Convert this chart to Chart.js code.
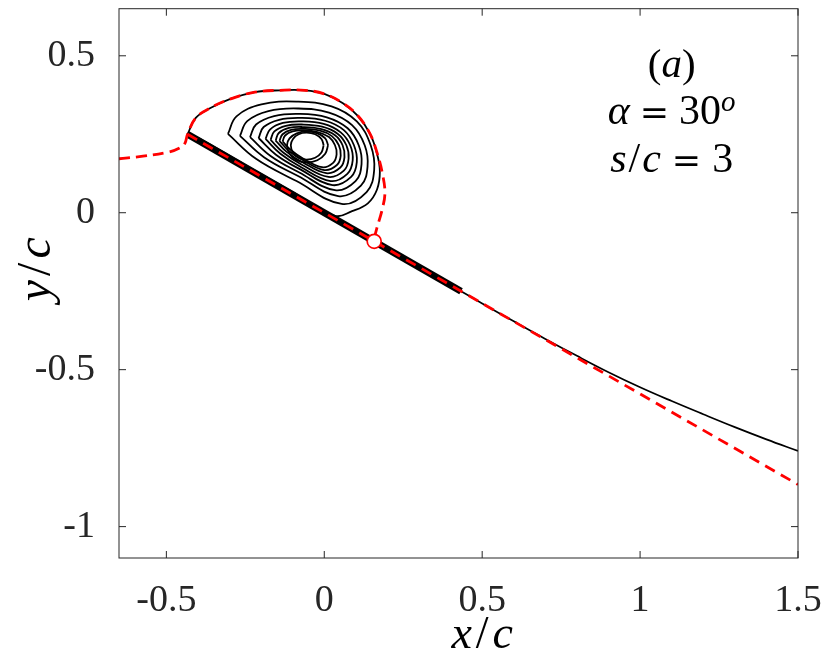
<!DOCTYPE html>
<html>
<head>
<meta charset="utf-8">
<script src="https://cdn.jsdelivr.net/npm/chart.js@4.4.0/dist/chart.umd.min.js"></script>
<style>
  html, body { margin: 0; padding: 0; background: #fff; }
  #wrap { width: 822px; height: 662px; }
</style>
</head>
<body>
<div id="wrap"><canvas id="flow"></canvas></div>
<script>
'use strict';

// ---- axes ----
const xTicks = [-0.5, 0, 0.5, 1, 1.5];
const yTicks = [-1, -0.5, 0, 0.5];

// ---- flat plate, chord c, 30 deg ----
const plateX = [-0.433, 0.433];
const plateY = [0.25, -0.25];

// red dashed: chord line and its straight extension
const chordX = [-0.433, 1.5];
const chordY = [0.25, -0.866];

// black wake streamline leaving the trailing edge
const wakeX = [0.433, 0.5, 0.6, 0.7, 0.8, 0.9, 1.0, 1.1, 1.2, 1.3, 1.4, 1.5];
const wakeY = [-0.250, -0.289, -0.346, -0.402, -0.456, -0.508, -0.556, -0.600, -0.642, -0.683, -0.722, -0.759];

// red dashed dividing streamline (from left edge, over the vortex, to reattachment)
const sepX = [-0.650, -0.574, -0.494, -0.455, -0.441, -0.433, -0.407, -0.362, -0.299, -0.220, -0.140, -0.061,
              0.002, 0.059, 0.107, 0.145, 0.168, 0.184, 0.192, 0.183, 0.168, 0.160, 0.158];
const sepY = [0.172, 0.180, 0.193, 0.208, 0.222, 0.250, 0.302, 0.333, 0.362, 0.384, 0.390, 0.390,
              0.378, 0.349, 0.308, 0.251, 0.188, 0.125, 0.062, 0.009, -0.044, -0.075, -0.091];

// reattachment point
const reattachX = [0.158];
const reattachY = [-0.091];

// closed streamlines of the leading-edge vortex, outer to inner  [x/c, y/c]
const loop0 = [[-0.433,0.250],[-0.407,0.302],[-0.362,0.333],[-0.299,0.362],[-0.220,0.384],[-0.140,0.390],
  [-0.061,0.390],[0.002,0.378],[0.059,0.349],[0.107,0.308],[0.145,0.251],[0.167,0.188],[0.176,0.131],
  [0.167,0.074],[0.138,0.030],[0.088,0.005],[0.034,-0.010],[-0.100,0.066],[-0.250,0.152],[-0.400,0.239],[-0.433,0.250]];
const loop1 = [[-0.305,0.251],[-0.278,0.307],[-0.199,0.345],[-0.088,0.354],[0.023,0.339],[0.103,0.291],
  [0.147,0.215],[0.158,0.136],[0.134,0.066],[0.055,0.028],[-0.088,0.101],[-0.215,0.171],[-0.305,0.251]];
const loop2 = [[-0.267,0.245],[-0.244,0.292],[-0.177,0.324],[-0.083,0.332],[0.015,0.319],[0.088,0.279],
  [0.128,0.215],[0.137,0.147],[0.116,0.086],[0.044,0.053],[-0.083,0.117],[-0.191,0.177],[-0.267,0.245]];
const loop3 = [[-0.235,0.241],[-0.216,0.281],[-0.159,0.308],[-0.079,0.315],[0.008,0.304],[0.074,0.269],
  [0.109,0.215],[0.118,0.155],[0.099,0.101],[0.034,0.072],[-0.079,0.128],[-0.170,0.181],[-0.235,0.241]];
const loop4 = [[-0.208,0.238],[-0.192,0.273],[-0.143,0.296],[-0.076,0.302],[0.003,0.293],[0.062,0.263],
  [0.094,0.215],[0.103,0.161],[0.085,0.114],[0.026,0.088],[-0.076,0.138],[-0.153,0.185],[-0.208,0.238]];
const loop5 = [[-0.186,0.235],[-0.172,0.265],[-0.131,0.286],[-0.073,0.291],[-0.002,0.283],[0.052,0.256],
  [0.082,0.215],[0.090,0.167],[0.073,0.124],[0.020,0.101],[-0.073,0.145],[-0.139,0.188],[-0.186,0.235]];
const loop6 = [[-0.170,0.232],[-0.158,0.259],[-0.122,0.277],[-0.071,0.281],[-0.007,0.274],[0.043,0.251],
  [0.070,0.215],[0.077,0.172],[0.062,0.134],[0.013,0.114],[-0.071,0.153],[-0.129,0.191],[-0.170,0.232]];
const loop7 = [[-0.154,0.230],[-0.144,0.254],[-0.112,0.270],[-0.069,0.273],[-0.012,0.267],[0.034,0.247],
  [0.058,0.215],[0.064,0.177],[0.051,0.144],[0.006,0.126],[-0.069,0.161],[-0.119,0.194],[-0.154,0.230]];
const loop8 = [[-0.142,0.229],[-0.132,0.250],[-0.105,0.264],[-0.067,0.267],[-0.016,0.262],[0.024,0.244],
  [0.046,0.215],[0.052,0.182],[0.040,0.152],[0.000,0.136],[-0.067,0.167],[-0.111,0.196],[-0.142,0.229]];
const loop9 = [[-0.132,0.227],[-0.124,0.246],[-0.100,0.259],[-0.066,0.262],[-0.021,0.257],[0.015,0.241],
  [0.034,0.215],[0.039,0.186],[0.028,0.159],[-0.007,0.145],[-0.066,0.172],[-0.105,0.199],[-0.132,0.227]];
const loop10 = [[0.012,0.215],[0.003,0.237],[-0.022,0.253],[-0.056,0.259],[-0.087,0.253],[-0.110,0.237],
  [-0.118,0.215],[-0.110,0.188],[-0.087,0.167],[-0.056,0.160],[-0.022,0.167],[0.003,0.188],[0.012,0.215]];
const loop11 = [[-0.002,0.215],[-0.009,0.235],[-0.029,0.250],[-0.056,0.255],[-0.081,0.250],[-0.099,0.235],
  [-0.106,0.215],[-0.099,0.192],[-0.081,0.175],[-0.056,0.169],[-0.029,0.175],[-0.009,0.192],[-0.002,0.215]];

const SERIF = '"Liberation Serif", "Times New Roman", serif';
const INK = '#262626';
const RED = '#ff0000';

const pts = (xs, ys) => xs.map((x, i) => ({ x, y: ys[i] }));
const pairs = arr => arr.map(p => ({ x: p[0], y: p[1] }));

function curve(data, color, width, extra) {
  return Object.assign({
    data, showLine: true, fill: false, borderColor: color, borderWidth: width,
    pointRadius: 0, pointHoverRadius: 0, tension: 0.4
  }, extra || {});
}

// first dataset is painted on top
const datasets = [
  { data: pts(reattachX, reattachY), showLine: false, pointRadius: 7, pointBorderWidth: 1.7,
    pointBorderColor: RED, pointBackgroundColor: '#fff' },
  curve(pts(sepX, sepY), RED, 2.8, { borderDash: [11, 6] }),
  curve(pts(chordX, chordY), RED, 2.8, { borderDash: [11, 7], tension: 0 }),
  curve(pairs(loop0), '#000', 1.8),
];
[loop1, loop2, loop3, loop4, loop5, loop6, loop7, loop8, loop9, loop10, loop11]
  .forEach(l => datasets.push(curve(pairs(l), '#000', 1.8)));
datasets.push(curve(pts(wakeX, wakeY), '#000', 1.7));
datasets.push(curve(pts(plateX, plateY), '#000', 7, { tension: 0, borderCapStyle: 'butt' }));
datasets.forEach((d, i) => { d.order = i; });

// draw a row of text pieces centred on cx
function runs(ctx, parts, cx, base) {
  let w = 0;
  parts.forEach(p => { ctx.font = p.f; w += ctx.measureText(p.t).width + 2 * (p.g || 0); });
  let xx = cx - w / 2;
  parts.forEach(p => {
    ctx.font = p.f;
    xx += p.g || 0;
    ctx.fillText(p.t, xx, base + (p.dy || 0));
    xx += ctx.measureText(p.t).width + (p.g || 0);
  });
}

const it = s => `italic ${s}px ${SERIF}`;
const up = s => `${s}px ${SERIF}`;
const EQ = s => `${s}px "DejaVu Serif", serif`;

const frame = {
  id: 'frame',
  afterDraw(chart) {
    const { ctx, chartArea: a, scales: { x, y } } = chart;
    ctx.save();
    ctx.strokeStyle = INK;
    ctx.lineWidth = 1;
    ctx.strokeRect(a.left, a.top, a.right - a.left, a.bottom - a.top);
    ctx.beginPath();
    const tl = 7;
    xTicks.forEach(v => {
      const p = x.getPixelForValue(v);
      ctx.moveTo(p, a.bottom); ctx.lineTo(p, a.bottom - tl);
      ctx.moveTo(p, a.top); ctx.lineTo(p, a.top + tl);
    });
    yTicks.forEach(v => {
      const p = y.getPixelForValue(v);
      ctx.moveTo(a.left, p); ctx.lineTo(a.left + tl, p);
      ctx.moveTo(a.right, p); ctx.lineTo(a.right - tl, p);
    });
    ctx.stroke();

    ctx.fillStyle = '#000';
    ctx.textBaseline = 'alphabetic';
    ctx.textAlign = 'left';
    // panel annotation
    const ax = x.getPixelForValue(1.1);
    runs(ctx, [{ t: '(', f: up(41) }, { t: 'a', f: it(41) }, { t: ')', f: up(41) }], ax, y.getPixelForValue(0.431));
    runs(ctx, [{ t: '\u03b1', f: it(42) }, { t: '=', f: EQ(35), g: 10 }, { t: '30', f: up(42) },
               { t: 'o', f: it(29), dy: -13 }], ax, y.getPixelForValue(0.283));
    runs(ctx, [{ t: 's', f: it(42) }, { t: '/', f: up(42), g: 2 }, { t: 'c', f: it(42) },
               { t: '=', f: EQ(35), g: 11 }, { t: '3', f: up(42) }], ax, y.getPixelForValue(0.131));

    // axis titles
    runs(ctx, [{ t: 'x', f: it(46) }, { t: '/', f: up(46), g: 4 }, { t: 'c', f: it(46) }],
         x.getPixelForValue(0.5), a.bottom + 90);
    ctx.translate(50, y.getPixelForValue(-0.18));
    ctx.rotate(-Math.PI / 2);
    runs(ctx, [{ t: 'y', f: it(48) }, { t: '/', f: up(48), g: 4 }, { t: 'c', f: it(48) }], 0, 0);
    ctx.restore();
  }
};

const tickFont = { family: SERIF, size: 38 };
const label = v => (v === 0 ? '0' : String(v));

new Chart(document.getElementById('flow'), {
  type: 'scatter',
  data: { datasets },
  options: {
    responsive: true,
    maintainAspectRatio: false,
    animation: false,
    events: [],
    layout: { padding: { left: 0, top: 4, right: 24, bottom: 0 } },
    plugins: { legend: { display: false }, tooltip: { enabled: false } },
    scales: {
      x: {
        type: 'linear', min: -0.65, max: 1.5,
        grid: { display: false }, border: { display: false },
        ticks: { color: INK, font: tickFont, padding: 12, maxRotation: 0, autoSkip: false, callback: label },
        afterBuildTicks: s => { s.ticks = xTicks.map(v => ({ value: v })); },
        afterFit: s => { s.height = 104; s.paddingLeft = 0; s.paddingRight = 0; }
      },
      y: {
        type: 'linear', min: -1.1, max: 0.65,
        grid: { display: false }, border: { display: false },
        ticks: { color: INK, font: tickFont, padding: 16, autoSkip: false, callback: label },
        afterBuildTicks: s => { s.ticks = yTicks.map(v => ({ value: v })); },
        afterFit: s => { s.width = 119; s.paddingTop = 0; s.paddingBottom = 0; }
      }
    }
  },
  plugins: [frame]
});
</script>
</body>
</html>
